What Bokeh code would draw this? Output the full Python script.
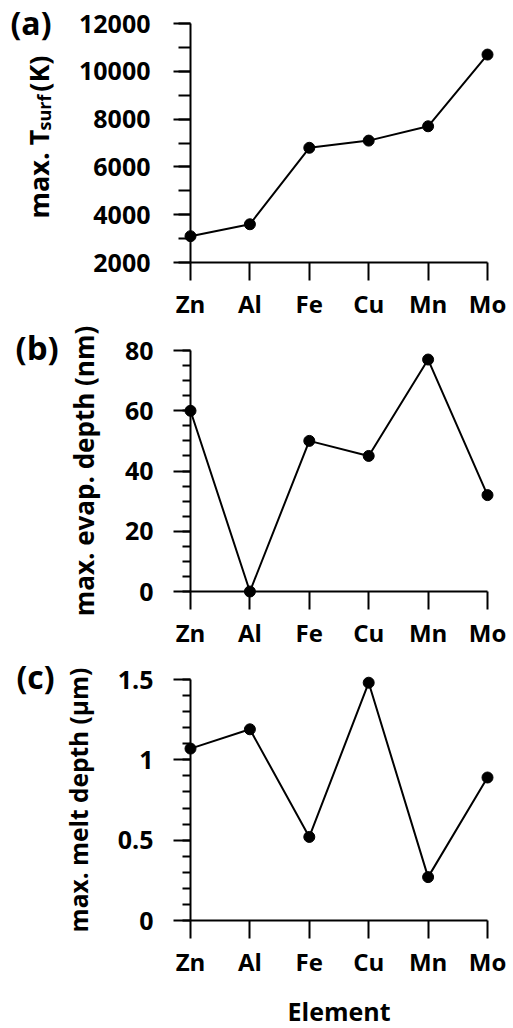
import math
from bokeh.plotting import figure
from bokeh.layouts import column
from bokeh.models import Range1d, FixedTicker, SingleIntervalTicker, NumeralTickFormatter
from bokeh.core.properties import value
from bokeh.embed import file_html
from bokeh.resources import INLINE

# ---- data ----
elements = ["Zn", "Al", "Fe", "Cu", "Mn", "Mo"]
t_surf = [3100, 3600, 6800, 7100, 7700, 10700]          # K
evap_depth = [60, 0, 50, 45, 77, 32]                     # nm
melt_depth = [1.07, 1.19, 0.52, 1.48, 0.27, 0.89]        # um

FONT = "Open Sans"
W = 513
LEFT, FW = 190, 297
RIGHT = W - LEFT - FW
idx = list(range(len(elements)))
X0, X1 = 0, len(elements) - 1
BASE_SHIFT = 0.3   # em, compensates the glyph's baseline placement


def make_panel(vals, yr, top, fh, bottom, interval, nminor, minor_out,
               ystandoff, fmt=None):
    H = top + fh + bottom
    p = figure(width=W, height=H, x_range=Range1d(X0, X1), y_range=Range1d(*yr),
               min_border_left=LEFT, min_border_right=RIGHT,
               min_border_top=top, min_border_bottom=bottom,
               output_backend="svg", toolbar_location=None)
    p.outline_line_color = None
    p.grid.visible = False
    p.background_fill_color = "white"
    p.border_fill_color = "white"

    xa = p.xaxis[0]
    xa.ticker = FixedTicker(ticks=idx)
    xa.major_label_overrides = {i: e for i, e in zip(idx, elements)}
    xa.minor_tick_line_color = None
    xa.major_tick_in = 0
    xa.major_tick_out = 18
    xa.major_label_standoff = 6

    ya = p.yaxis[0]
    ya.ticker = SingleIntervalTicker(interval=interval, num_minor_ticks=nminor)
    ya.major_tick_in = 0
    ya.major_tick_out = 17
    ya.minor_tick_in = 0
    ya.minor_tick_out = minor_out
    ya.major_label_standoff = ystandoff
    if fmt is not None:
        ya.formatter = fmt

    for ax in (xa, ya):
        ax.axis_line_width = 2
        ax.major_tick_line_width = 2
        ax.minor_tick_line_width = 2
        ax.axis_line_color = "black"
        ax.major_tick_line_color = "black"
        ax.major_label_text_font = FONT
        ax.major_label_text_font_style = "bold"
        ax.major_label_text_color = "black"
        ax.axis_label_text_font = FONT
        ax.axis_label_text_font_style = "bold"
        ax.axis_label_text_color = "black"
    xa.major_label_text_font_size = "24px"
    ya.major_label_text_font_size = "25px"

    r1 = p.line(idx, vals, line_width=2, line_color="black")
    r2 = p.scatter(idx, vals, size=11, fill_color="black", line_color="black")
    r1.level = "overlay"
    r2.level = "overlay"
    return p


def to_data(p, top, fh, sx, sy):
    # sx, sy: pixel position inside this figure's own canvas
    x = X0 + (sx - LEFT) / FW * (X1 - X0)
    y0, y1 = p.y_range.start, p.y_range.end
    y = y1 - (sy - top) / fh * (y1 - y0)
    return x, y


def add_text(p, geom, sx, sy, text, size, angle=0.0, align="left"):
    # (sx, sy) is roughly where the text baseline should sit
    shift = BASE_SHIFT * size
    if angle:
        sx -= shift
    else:
        sy -= shift
    x, y = to_data(p, *geom, sx, sy)
    r = p.text(x=[x], y=[y], text=[text], angle=angle, text_align=align,
               text_baseline="alphabetic", text_font=value(FONT),
               text_font_style="bold", text_font_size=value(f"{size}px"),
               text_color="black")
    r.level = "overlay"


# panel (a): page rows 0..323
A_TOP, A_FH, A_BOT = 23, 239, 61
pa = make_panel(t_surf, (2000, 12000), A_TOP, A_FH, A_BOT, 2000, 2, 12, 23)
ga = (A_TOP, A_FH)
add_text(pa, ga, 10, 31.5, "(a)", 32)
add_text(pa, ga, 46, 218, "max. T", 27, angle=math.pi / 2, align="left")
add_text(pa, ga, 49, 112, "surf", 18, angle=math.pi / 2, align="center")
add_text(pa, ga, 46, 55, "(K)", 27, angle=math.pi / 2, align="right")

# panel (b): page rows 323..653
B_TOP, B_FH, B_BOT = 27, 241, 62
pb = make_panel(evap_depth, (0, 80), B_TOP, B_FH, B_BOT, 20, 4, 8, 20)
pb.yaxis[0].axis_label = "max. evap. depth (nm)"
pb.yaxis[0].axis_label_text_font_size = "26px"
pb.yaxis[0].axis_label_standoff = 20
add_text(pb, (B_TOP, B_FH), 15, 356.5 - 323, "(b)", 33)

# panel (c): page rows 653..1028
C_TOP, C_FH, C_BOT = 26, 241, 108
pc = make_panel(melt_depth, (0, 1.5), C_TOP, C_FH, C_BOT, 0.5, 5, 8, 20,
                fmt=NumeralTickFormatter(format="0.[0]"))
pc.yaxis[0].axis_label = "max. melt depth (\u03bcm)"
pc.yaxis[0].axis_label_text_font_size = "24.5px"
pc.yaxis[0].axis_label_standoff = 20
add_text(pc, (C_TOP, C_FH), 16, 685.5 - 653, "(c)", 32)
add_text(pc, (C_TOP, C_FH), 338.5, 1018 - 653, "Element", 25, align="center")

layout = column(pa, pb, pc, spacing=0)
open("out.html", "w").write(file_html(layout, INLINE))
